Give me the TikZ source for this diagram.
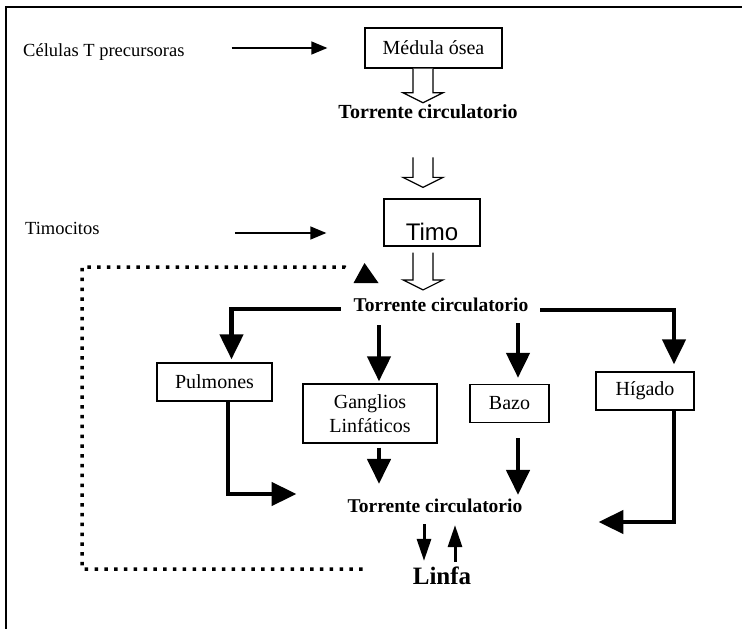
\documentclass[tikz,border=0pt]{standalone}
\usepackage{fontspec}
\setmainfont{Liberation Serif}
\newfontfamily\timofont{Liberation Sans}
\usetikzlibrary{arrows.meta,calc}
\tikzset{
  box/.style={draw,line width=1.3pt,inner sep=0pt,align=center,font=\fontsize{20}{24}\selectfont},
  lab/.style={inner sep=0pt,anchor=west,font=\fontsize{18.5}{22}\selectfont},
  hd/.style={inner sep=0pt,font=\fontsize{19.5}{22}\selectfont\bfseries},
  tarr/.style={-{Triangle[length=16pt,width=13pt]},line width=1.3pt},
  arr/.style={-{Triangle[length=25pt,width=23pt]},line width=4.5pt},
  marr/.style={-{Triangle[length=22pt,width=14pt]},line width=3pt},
  hol/.style={line width=1.2pt,fill=white,line join=miter},
  dots/.style={line width=3.5pt,dash pattern=on 3.5pt off 6.3pt},
}
\newcommand{\holarrow}[2]{\draw[hol] let \p1=(#1), \p2=(#2) in
  (\x1-10pt,\y1) -- (\x1-10pt,\y2+10pt) -- (\x1-20pt,\y2+10pt) -- (\x1,\y2)
  -- (\x1+20pt,\y2+10pt) -- (\x1+10pt,\y2+10pt) -- (\x1+10pt,\y1);}

\begin{document}
\begin{tikzpicture}[x=1pt,y=-1pt]
\useasboundingbox (0,0) rectangle (742,629);
\draw[line width=2pt] (742,7) -- (6,7) -- (6,629);

\node[lab] (cel) at (23,52) {Células T precursoras};
\node[lab] (tim) at (25,228) {Timocitos};
\node[box,minimum width=137pt,minimum height=40pt] (med) at (433.5,48) {Médula ósea};
\node[hd,font=\fontsize{20}{22}\selectfont\bfseries] (tc1) at (428,112) {Torrente circulatorio};
\node[box,minimum width=96pt,minimum height=47pt,font=\timofont\fontsize{24}{26}\selectfont] (timo) at (432,222.5) {\raisebox{-17.5pt}[0pt][0pt]{Timo}};
\node[hd] (tc2) at (441,305) {Torrente circulatorio};
\node[box,minimum width=115pt,minimum height=38pt] (pul) at (214.5,382) {Pulmones};
\node[box,minimum width=134pt,minimum height=59pt] (gan) at (370,413.5) {Ganglios\\Linfáticos};
\node[box,minimum width=79pt,minimum height=38pt] (baz) at (509.5,403.5) {Bazo};
\node[box,minimum width=98pt,minimum height=38pt] (hig) at (645,391) {Hígado};
\node[hd] (tc3) at (435,506) {Torrente circulatorio};
\node[hd,font=\fontsize{25}{28}\selectfont\bfseries] (lin) at (442,576) {Linfa};

\draw[tarr,shorten <=47pt,shorten >=37pt] (cel.east |- med.west) -- (med.west);
\draw[tarr,shorten <=135pt,shorten >=57pt] ($(tim.east)+(0,5)$) -- ($(tim.east -| timo.west)+(0,5)$);

\holarrow{$(med.south)+(-10.5,0)$}{$(tc1.north)+(0,-2)$}
\holarrow{$(tc1.south)+(-5,38)$}{$(timo.north)+(0,-11)$}
\holarrow{$(timo.south)+(-9,6)$}{$(tc2.north)+(0,-8)$}

\coordinate (ganin) at ($(gan.north)+(9,0)$);
\coordinate (bazin) at ($(baz.north)+(8.5,0)$);
\draw[arr,shorten >=3pt] ($(tc2.west)+(-13,4)$) -| ($(pul.north)+(17,0)$);
\draw[arr,shorten >=7pt] ($(tc2.east)+(12,5)$) -| ($(hig.north)+(29,0)$);
\draw[arr,shorten <=13pt,shorten >=2pt] (ganin |- tc2.south) -- (ganin);
\draw[arr,shorten <=11pt,shorten >=6pt] (bazin |- tc2.south) -- (bazin);
\draw[arr,shorten <=4pt,shorten >=15pt] (gan.south -| ganin) -- (tc3.north -| ganin);
\draw[arr,shorten <=15pt,shorten >=4pt] (baz.south -| bazin) -- (tc3.north -| bazin);
\draw[arr,shorten >=51pt] ($(pul.south)+(13.5,0)$) |- ($(tc3.west)+(0,-12)$);
\draw[arr,shorten >=76pt] ($(hig.south)+(29,0)$) |- ($(tc3.east)+(0,16)$);

\coordinate (ldn) at ($(lin.north)+(-18,0)$);
\coordinate (lup) at ($(lin.north)+(13,0)$);
\draw[marr,shorten <=11pt,shorten >=6pt] (ldn |- tc3.south) -- (ldn);
\draw[marr,shorten <=5pt,shorten >=12pt] (lup) -- (lup |- tc3.south);

\coordinate (loop) at (82,267);
\draw[dots] ($(lin.west)+(-50,-7)$) -| (loop) -- ($(tc2.west)+(-9,-38)$) to[out=0,in=150] ($(tc2.west)+(-3,-34)$);
\fill ($(tc2.west)+(11,-42)$) -- ($(tc2.west)+(0,-22)$) -- ($(tc2.west)+(25,-22)$) -- cycle;
\end{tikzpicture}
\end{document}
